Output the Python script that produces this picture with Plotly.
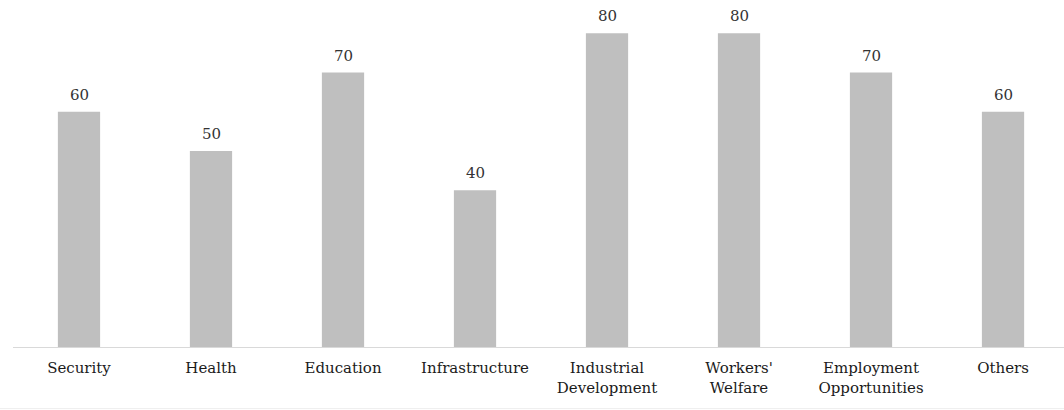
import plotly.graph_objects as go

categories = ["Security", "Health", "Education", "Infrastructure",
              "Industrial<br>Development", "Workers'<br>Welfare",
              "Employment<br>Opportunities", "Others"]
values = [60, 50, 70, 40, 80, 80, 70, 60]

xpos = list(range(len(categories)))

fig = go.Figure(go.Bar(
    x=xpos,
    y=values,
    marker=dict(color="#BFBFBF", line=dict(width=0)),
    width=0.32,
))

# value labels above each bar
for x, v in zip(xpos, values):
    fig.add_annotation(
        x=x, y=v, text=str(v), showarrow=False,
        yanchor="bottom", yshift=6,
        font=dict(family="DejaVu Serif", size=15, color="#333333"),
    )

fig.update_layout(
    width=1064, height=410,
    margin=dict(l=13, r=0, t=0, b=63),
    paper_bgcolor="white", plot_bgcolor="white",
    showlegend=False,
    xaxis=dict(
        tickmode="array",
        tickvals=xpos,
        ticktext=categories,
        range=[-0.5, 7.462],
        showgrid=False, zeroline=False,
        showline=True, linecolor="#D9D9D9", linewidth=1,
        ticks="", ticklabelstandoff=7,
        tickfont=dict(family="DejaVu Serif", size=15, color="#1A1A1A"),
    ),
    yaxis=dict(range=[0, 88.5], visible=False),
    shapes=[dict(type="line", xref="paper", yref="paper", x0=-0.02, x1=1,
                 y0=-0.1775, y1=-0.1775, line=dict(color="#EEEEEE", width=1))],
)

fig.write_html("out.html")
